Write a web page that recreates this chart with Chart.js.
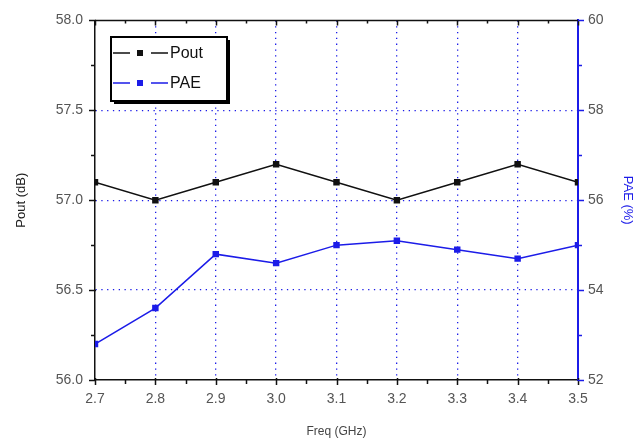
<!DOCTYPE html>
<html>
<head>
<meta charset="utf-8">
<script src="https://cdn.jsdelivr.net/npm/chart.js@4"></script>
<style>
  html, body { margin: 0; padding: 0; background: #fff; }
  #wrap { width: 633px; height: 443px; }
</style>
</head>
<body>
<div id="wrap"><canvas id="graphique"></canvas></div>
<script>
// donnees
const freq = [2.7, 2.8, 2.9, 3.0, 3.1, 3.2, 3.3, 3.4, 3.5];
const pout = [57.1, 57.0, 57.1, 57.2, 57.1, 57.0, 57.1, 57.2, 57.1];
const pae = [52.8, 53.6, 54.8, 54.6, 55.0, 55.1, 54.9, 54.7, 55.0];

const BLEU = '#1c1ce8';
const NOIR = '#111111';
const GRIS = '#555555';
const POLICE = '"Liberation Sans", Arial, sans-serif';

const estBord = (v, a, b) => Math.abs(v - a) < 1e-6 || Math.abs(v - b) < 1e-6;

// graduations (majeures + mineures) sur les 4 cotes
const graduations = {
    id: 'graduations',
    afterDraw(chart) {
        const { ctx, chartArea: ca, scales } = chart;
        const x = scales.x, y = scales.y, y1 = scales.y1;
        ctx.save();
        ctx.lineWidth = 1.5;
        ctx.strokeStyle = NOIR;
        // bordure haute
        ctx.beginPath();
        ctx.moveTo(ca.left, ca.top);
        ctx.lineTo(ca.right, ca.top);
        ctx.stroke();
        ctx.beginPath();
        for (let i = 0; i <= 16; i++) {
            const v = 2.7 + i * 0.05;
            const px = Math.round(x.getPixelForValue(v)) + 0.5;
            const maj = i % 2 === 0;
            // bas
            ctx.moveTo(px, ca.bottom - (maj ? 2 : 0));
            ctx.lineTo(px, ca.bottom + (maj ? 5 : 4));
            // haut
            ctx.moveTo(px, ca.top);
            ctx.lineTo(px, ca.top + (maj ? 5 : 3));
        }
        for (let i = 0; i <= 8; i++) {
            const v = 56 + i * 0.25;
            const py = Math.round(y.getPixelForValue(v)) + 0.5;
            const maj = i % 2 === 0;
            ctx.moveTo(ca.left - (maj ? 6 : 4), py);
            ctx.lineTo(ca.left + (maj ? 1 : 0), py);
        }
        ctx.stroke();
        ctx.strokeStyle = BLEU;
        ctx.beginPath();
        for (let i = 0; i <= 8; i++) {
            const v = 52 + i;
            const py = Math.round(y1.getPixelForValue(v)) + 0.5;
            const maj = i % 2 === 0;
            ctx.moveTo(ca.right, py);
            ctx.lineTo(ca.right + (maj ? 6 : 4), py);
        }
        ctx.stroke();
        ctx.restore();
    }
};

// legende encadree avec ombre, style Origin
const legende = {
    id: 'legende',
    afterDraw(chart) {
        const { ctx } = chart;
        const bx = 111, by = 37, bw = 116, bh = 64;
        ctx.save();
        ctx.fillStyle = '#000';
        ctx.fillRect(bx + 3, by + 3, bw, bh);
        ctx.fillStyle = '#fff';
        ctx.fillRect(bx, by, bw, bh);
        ctx.lineWidth = 2;
        ctx.strokeStyle = '#000';
        ctx.strokeRect(bx, by, bw, bh);
        chart.data.datasets.forEach((ds, i) => {
            const cy = 53 + i * 30;
            ctx.strokeStyle = ds.borderColor;
            ctx.fillStyle = ds.borderColor;
            ctx.lineWidth = 1.5;
            ctx.beginPath();
            ctx.moveTo(113, cy); ctx.lineTo(130, cy);
            ctx.moveTo(151, cy); ctx.lineTo(168, cy);
            ctx.stroke();
            ctx.fillRect(137, cy - 3, 6, 6);
            ctx.fillStyle = '#111';
            ctx.font = '16px ' + POLICE;
            ctx.textBaseline = 'middle';
            ctx.textAlign = 'left';
            ctx.fillText(ds.label, 170, cy + 1);
        });
        ctx.restore();
    }
};

const ctx = document.getElementById('graphique').getContext('2d');
new Chart(ctx, {
    type: 'line',
    data: {
        datasets: [{
            label: 'Pout',
            data: freq.map((f, i) => ({ x: f, y: pout[i] })),
            yAxisID: 'y',
            borderColor: NOIR,
            backgroundColor: NOIR,
            borderWidth: 1.5,
            pointStyle: 'rect',
            pointRadius: 3.5,
            tension: 0
        }, {
            label: 'PAE',
            data: freq.map((f, i) => ({ x: f, y: pae[i] })),
            yAxisID: 'y1',
            borderColor: BLEU,
            backgroundColor: BLEU,
            borderWidth: 1.5,
            pointStyle: 'rect',
            pointRadius: 3.5,
            tension: 0
        }]
    },
    options: {
        responsive: true,
        maintainAspectRatio: false,
        animation: false,
        layout: { padding: { top: 18, left: 0, right: 0, bottom: 0 } },
        scales: {
            x: {
                type: 'linear',
                min: 2.7,
                max: 3.5,
                afterFit: s => { s.height = 63; },
                ticks: {
                    stepSize: 0.1,
                    padding: 11,
                    color: GRIS,
                    font: { size: 14, family: POLICE },
                    callback: v => v.toFixed(1)
                },
                grid: {
                    drawTicks: false,
                    color: c => estBord(c.tick.value, 2.7, 3.5) ? 'rgba(0,0,0,0)' : BLEU,
                    lineWidth: 1.3
                },
                border: { display: true, color: NOIR, width: 1.5, dash: [1.3, 4.5] },
                title: {
                    display: true,
                    text: 'Freq (GHz)',
                    color: '#444',
                    padding: { top: 0, bottom: 4 },
                    font: { size: 12, family: POLICE }
                }
            },
            y: {
                position: 'left',
                min: 56,
                max: 58,
                afterFit: s => { s.width = 95; },
                ticks: {
                    stepSize: 0.5,
                    padding: 12,
                    color: GRIS,
                    font: { size: 14, family: POLICE },
                    callback: v => v.toFixed(1)
                },
                grid: {
                    drawTicks: false,
                    color: c => estBord(c.tick.value, 56, 58) ? 'rgba(0,0,0,0)' : BLEU,
                    lineWidth: 1.3
                },
                border: { display: true, color: NOIR, width: 1.5, dash: [1.3, 4.5] },
                title: {
                    display: true,
                    text: 'Pout (dB)',
                    color: '#222',
                    padding: { top: 14, bottom: 0 },
                    font: { size: 13, family: POLICE }
                }
            },
            y1: {
                position: 'right',
                min: 52,
                max: 60,
                afterFit: s => { s.width = 55; },
                ticks: {
                    stepSize: 2,
                    padding: 10,
                    color: GRIS,
                    font: { size: 14, family: POLICE }
                },
                grid: { drawOnChartArea: false, drawTicks: false },
                border: { display: true, color: BLEU, width: 2 },
                title: {
                    display: true,
                    text: 'PAE (%)',
                    color: BLEU,
                    padding: { top: -2, bottom: 0 },
                    font: { size: 13, family: POLICE }
                }
            }
        },
        plugins: {
            legend: { display: false },
            tooltip: { enabled: false }
        }
    },
    plugins: [graduations, legende]
});
</script>
</body>
</html>
